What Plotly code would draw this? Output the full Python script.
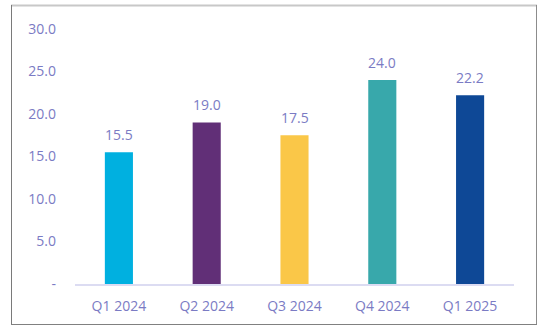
import plotly.graph_objects as go

categories = ["Q1 2024", "Q2 2024", "Q3 2024", "Q4 2024", "Q1 2025"]
values = [15.5, 19.0, 17.5, 24.0, 22.2]
colors = ["#00b0e0", "#612f77", "#fac748", "#38a8ab", "#0e4896"]
tick_vals = [0, 5, 10, 15, 20, 25, 30]
tick_text = ["-", "5.0", "10.0", "15.0", "20.0", "25.0", "30.0"]

txt = "#7b7bc4"
font = "Open Sans"

fig = go.Figure(go.Bar(
    x=categories, y=values, marker_color=colors, marker_line_width=0,
    cliponaxis=False, hoverinfo="skip",
))

for c, v in zip(categories, values):
    fig.add_annotation(x=c, y=v, text=f"{v:.1f}", showarrow=False,
                       yanchor="middle", yshift=18,
                       font=dict(color=txt, size=14, family=font))

L, R, T, B = 75, 39, 29, 50
W, H = 553, 334
pw, ph = W - L - R, H - T - B

def px(x):
    return (x - L) / pw

def py(y):
    return (H - B - y) / ph

fig.update_layout(
    width=W, height=H,
    margin=dict(l=L, r=R, t=T, b=B, pad=0),
    paper_bgcolor="white", plot_bgcolor="white",
    bargap=0.68, showlegend=False,
    font=dict(family=font, size=14, color=txt),
    xaxis=dict(showgrid=False, showline=True, linecolor="#dcdcf2", linewidth=2,
               ticks="", tickfont=dict(color=txt, size=14, family=font), ticklabelstandoff=8),
    yaxis=dict(range=[0, 30], tickvals=tick_vals, ticktext=tick_text, showgrid=False,
               zeroline=False, showline=False, ticks="", ticklabelstandoff=18,
               tickfont=dict(color=txt, size=14, family=font)),
    shapes=[
        dict(type="line", xref="paper", yref="paper", x0=px(11), x1=px(537), y0=py(5.5), y1=py(5.5),
             line=dict(color="#c8c8c8", width=2)),
        dict(type="line", xref="paper", yref="paper", x0=px(11.5), x1=px(11.5), y0=py(5), y1=py(324.5),
             line=dict(color="#7a7a7a", width=1)),
        dict(type="line", xref="paper", yref="paper", x0=px(536.5), x1=px(536.5), y0=py(5), y1=py(324.5),
             line=dict(color="#8c8c8c", width=1)),
        dict(type="line", xref="paper", yref="paper", x0=px(11), x1=px(537), y0=py(324.5), y1=py(324.5),
             line=dict(color="#808080", width=1)),
    ],
)

fig.write_html("out.html")
